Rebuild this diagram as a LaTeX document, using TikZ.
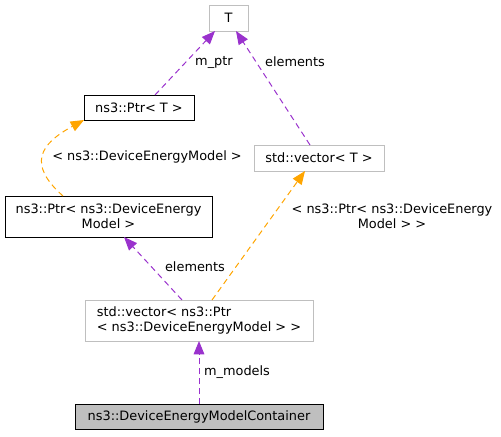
\documentclass[tikz,border=0pt]{standalone}
\usepackage{fontspec}
\setmainfont{DejaVu Sans}
\usetikzlibrary{arrows.meta,calc}
\definecolor{usecol}{HTML}{9A32CD}
\definecolor{tmplcol}{HTML}{FFA500}
\definecolor{extcol}{HTML}{BFBFBF}

\begin{document}
\begin{tikzpicture}[x=0.03cm,y=-0.03cm,inner sep=0pt,outer sep=0pt,
font=\fontsize{11}{12.8}\selectfont,
cls/.style={draw=black,line width=0.8pt,rectangle,align=center},
extcls/.style={cls,draw=extcol},
usearrow/.style={-{Triangle[length=0.4cm,width=0.32cm]},usecol,line width=0.85pt,dash pattern=on 5pt off 3.5pt},
tmplarrow/.style={usearrow,tmplcol},
lbl/.style={align=center}]
\useasboundingbox (0,0) rectangle (501,436);

% classes
\node[extcls,minimum width=1.17cm,minimum height=0.78cm] (T) at (228.5,18) {T};
\node[cls,minimum width=3.3cm,minimum height=0.75cm] (ptrT) at (139,107.5) {ns3::Ptr< T >};
\node[extcls,minimum width=3.9cm,minimum height=0.78cm] (vecT) at (319,158) {std::vector< T >};
\node[cls,minimum width=6.21cm,minimum height=1.23cm] (ptrDEM) at (108.5,216.5) {ns3::Ptr< ns3::DeviceEnergy\\Model >};
\node[extcls,align=left,minimum width=6.84cm,minimum height=1.23cm] (vecPtr) at (199,320.5) {std::vector< ns3::Ptr\\< ns3::DeviceEnergyModel > >};
\node[cls,fill=extcol,minimum width=7.44cm,minimum height=0.75cm] (cont) at (199,416.5) {ns3::DeviceEnergyModelContainer};

% edges
\draw[usearrow] ($(ptrT.north)+(16,0)$) -- ($(T.south)+(-13.5,0)$);
\draw[usearrow] ($(vecT.north)+(-9,0)$) -- ($(T.south)+(7.5,0)$);
\draw[tmplarrow] ($(ptrDEM.north)+(-45.5,0)$) .. controls +(-36,-32) and +(-44,24) .. (ptrT.south west);
\draw[usearrow] ($(vecPtr.north)+(-17,0)$) -- ($(ptrDEM.south)+(15.5,0)$);
\draw[tmplarrow] ($(vecPtr.north)+(13,0)$) -- ($(vecT.south)+(-14,0)$);
\draw[usearrow] (cont.north) -- (vecPtr.south);

% labels
\node[lbl] (lblptr) at (214,62) {m\_ptr};
\node[lbl] (lblelT) at (295,62) {elements};
\node[lbl] (lbldem) at (147,157) {< ns3::DeviceEnergyModel >};
\node[lbl] (lblvec) at (392,216) {< ns3::Ptr< ns3::DeviceEnergy\\Model > >};
\node[lbl] (lblel) at (195,267) {elements};
\node[lbl] (lblmod) at (237,372) {m\_models};
\end{tikzpicture}
\end{document}
